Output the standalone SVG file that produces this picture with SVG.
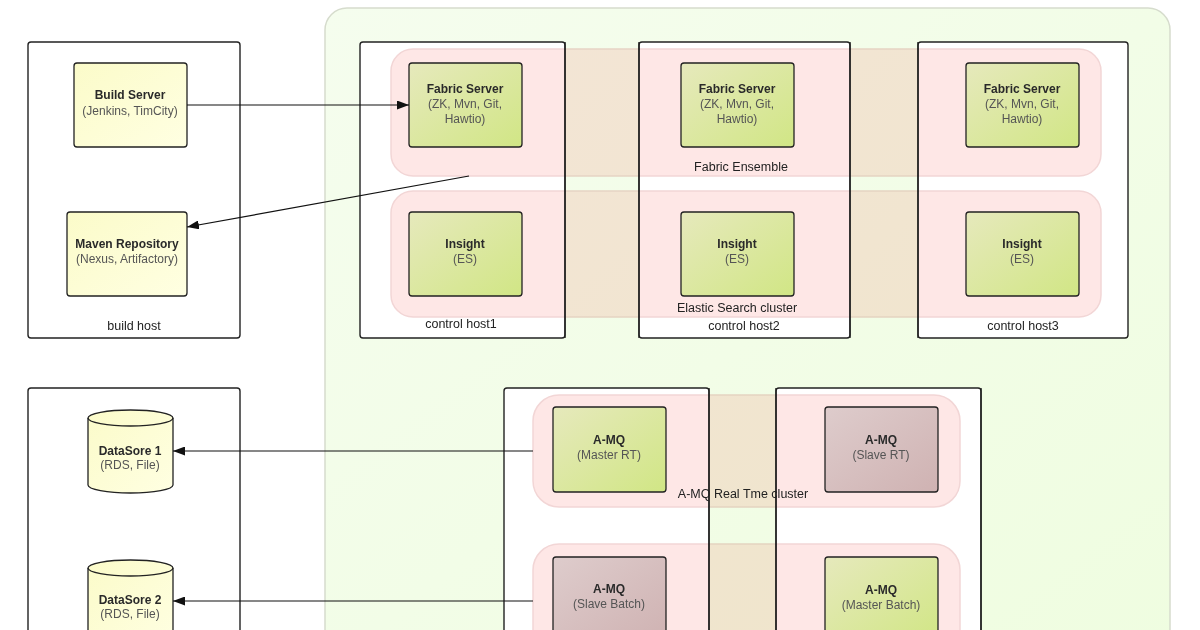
<svg xmlns="http://www.w3.org/2000/svg" width="1200" height="630" viewBox="0 0 1200 630">
<defs>
<linearGradient id="gGreen" x1="0" y1="0" x2="1" y2="1"><stop offset="0" stop-color="#e6e9bc"/><stop offset="1" stop-color="#d1e685"/></linearGradient>
<linearGradient id="gMauve" x1="0" y1="0" x2="1" y2="1"><stop offset="0" stop-color="#decccc"/><stop offset="1" stop-color="#cfb2b2"/></linearGradient>
<linearGradient id="gYellow" x1="0" y1="0" x2="1" y2="1"><stop offset="0" stop-color="#fbfbc9"/><stop offset="1" stop-color="#ffffe2"/></linearGradient>
<linearGradient id="gBg" x1="0" y1="0" x2="1" y2="1"><stop offset="0" stop-color="#f5fdee"/><stop offset="1" stop-color="#effde0"/></linearGradient>
<marker id="arr" viewBox="0 0 12 9" refX="12" refY="4.5" markerWidth="12" markerHeight="9" markerUnits="userSpaceOnUse" orient="auto"><path d="M0,0 L12,4.5 L0,9 z" fill="#111"/></marker>
</defs>
<style>
.host{fill:#fff;stroke:#222;stroke-width:1.4}
.band{fill:#fee7e6;stroke:#f2d6d6;stroke-width:1.5;mix-blend-mode:multiply}
.node{stroke:#222;stroke-width:1.3}
.green{fill:url(#gGreen)}
.mauve{fill:url(#gMauve)}
.yellow{fill:url(#gYellow)}
text{font-family:"Liberation Sans",Arial,sans-serif;font-size:12px;text-anchor:middle}
.t{font-weight:bold;fill:#2a2a2a}
.s{fill:#555}
.lbl{fill:#222;font-size:12.5px}
.conn{stroke:#111;stroke-width:1.2;fill:none;marker-end:url(#arr)}
</style>
<rect width="1200" height="630" fill="#fff"/>
<rect id="zone" x="325" y="8" width="845" height="660" rx="22" fill="url(#gBg)" stroke="#d6dccd" stroke-width="1.5"/>

<g id="build-host"><rect class="host" x="28" y="42" width="212" height="296" rx="3"/><text class="lbl" x="134" y="330">build host</text></g>
<g id="data-host"><rect class="host" x="28" y="388" width="212" height="280" rx="3"/></g>
<g id="control-host1"><rect class="host" x="360" y="42" width="205" height="296" rx="3"/><text class="lbl" x="461" y="328">control host1</text></g>
<g id="control-host2"><rect class="host" x="639" y="42" width="211" height="296" rx="3"/><text class="lbl" x="744" y="330">control host2</text></g>
<g id="control-host3"><rect class="host" x="918" y="42" width="210" height="296" rx="3"/><text class="lbl" x="1023" y="330">control host3</text></g>
<g id="amq-host1"><rect class="host" x="504" y="388" width="205" height="280" rx="3"/></g>
<g id="amq-host2"><rect class="host" x="776" y="388" width="205" height="280" rx="3"/></g>

<g id="fabric-ensemble"><rect class="band" x="391" y="49" width="710" height="127" rx="22"/><text class="lbl" x="741" y="171">Fabric Ensemble</text></g>
<g id="es-cluster"><rect class="band" x="391" y="191" width="710" height="126" rx="22"/><text class="lbl" x="737" y="312">Elastic Search cluster</text></g>
<g id="amq-rt-cluster"><rect class="band" x="533" y="395" width="427" height="112" rx="26"/><text class="lbl" x="743" y="498">A-MQ Real Tme cluster</text></g>
<g id="amq-batch-cluster"><rect class="band" x="533" y="544" width="427" height="120" rx="26"/></g>

<g id="hostlines" fill="none" stroke="#222" stroke-width="1.4">
<line x1="565" y1="42" x2="565" y2="338"/><line x1="639" y1="42" x2="639" y2="338"/><line x1="850" y1="42" x2="850" y2="338"/><line x1="918" y1="42" x2="918" y2="338"/>
<line x1="709" y1="388" x2="709" y2="630"/><line x1="776" y1="388" x2="776" y2="630"/><line x1="981" y1="388" x2="981" y2="630"/>
</g>

<g id="build-server"><rect class="node yellow" x="74" y="63" width="113" height="84" rx="3"/><text class="t" x="130" y="99">Build Server</text><text class="s" x="130" y="115">(Jenkins, TimCity)</text></g>
<g id="maven-repo"><rect class="node yellow" x="67" y="212" width="120" height="84" rx="3"/><text class="t" x="127" y="248">Maven Repository</text><text class="s" x="127" y="263">(Nexus, Artifactory)</text></g>

<g id="fabric1"><rect class="node green" x="409" y="63" width="113" height="84" rx="3"/><text class="t" x="465" y="93">Fabric Server</text><text class="s" x="465" y="108">(ZK, Mvn, Git,</text><text class="s" x="465" y="123">Hawtio)</text></g>
<g id="fabric2"><rect class="node green" x="681" y="63" width="113" height="84" rx="3"/><text class="t" x="737" y="93">Fabric Server</text><text class="s" x="737" y="108">(ZK, Mvn, Git,</text><text class="s" x="737" y="123">Hawtio)</text></g>
<g id="fabric3"><rect class="node green" x="966" y="63" width="113" height="84" rx="3"/><text class="t" x="1022" y="93">Fabric Server</text><text class="s" x="1022" y="108">(ZK, Mvn, Git,</text><text class="s" x="1022" y="123">Hawtio)</text></g>

<g id="insight1"><rect class="node green" x="409" y="212" width="113" height="84" rx="3"/><text class="t" x="465" y="248">Insight</text><text class="s" x="465" y="263">(ES)</text></g>
<g id="insight2"><rect class="node green" x="681" y="212" width="113" height="84" rx="3"/><text class="t" x="737" y="248">Insight</text><text class="s" x="737" y="263">(ES)</text></g>
<g id="insight3"><rect class="node green" x="966" y="212" width="113" height="84" rx="3"/><text class="t" x="1022" y="248">Insight</text><text class="s" x="1022" y="263">(ES)</text></g>

<g id="datastore1"><path class="node yellow" d="M88,418 A42.5,8 0 0 1 173,418 L173,485 A42.5,8 0 0 1 88,485 Z"/><path d="M88,418 A42.5,8 0 0 0 173,418" fill="none" stroke="#222" stroke-width="1.3"/><text class="t" x="130" y="455">DataSore 1</text><text class="s" x="130" y="469">(RDS, File)</text></g>
<g id="datastore2"><path class="node yellow" d="M88,568 A42.5,8 0 0 1 173,568 L173,640 A42.5,8 0 0 1 88,640 Z"/><path d="M88,568 A42.5,8 0 0 0 173,568" fill="none" stroke="#222" stroke-width="1.3"/><text class="t" x="130" y="604">DataSore 2</text><text class="s" x="130" y="618">(RDS, File)</text></g>

<g id="amq-master-rt"><rect class="node green" x="553" y="407" width="113" height="85" rx="3"/><text class="t" x="609" y="444">A-MQ</text><text class="s" x="609" y="459">(Master RT)</text></g>
<g id="amq-slave-rt"><rect class="node mauve" x="825" y="407" width="113" height="85" rx="3"/><text class="t" x="881" y="444">A-MQ</text><text class="s" x="881" y="459">(Slave RT)</text></g>
<g id="amq-slave-batch"><rect class="node mauve" x="553" y="557" width="113" height="85" rx="3"/><text class="t" x="609" y="593">A-MQ</text><text class="s" x="609" y="608">(Slave Batch)</text></g>
<g id="amq-master-batch"><rect class="node green" x="825" y="557" width="113" height="85" rx="3"/><text class="t" x="881" y="594">A-MQ</text><text class="s" x="881" y="609">(Master Batch)</text></g>

<g id="connectors">
<line class="conn" x1="187" y1="105" x2="409" y2="105"/>
<line class="conn" x1="469" y1="176" x2="187" y2="227"/>
<line class="conn" x1="533" y1="451" x2="173" y2="451"/>
<line class="conn" x1="533" y1="601" x2="173" y2="601"/>
</g>
</svg>
